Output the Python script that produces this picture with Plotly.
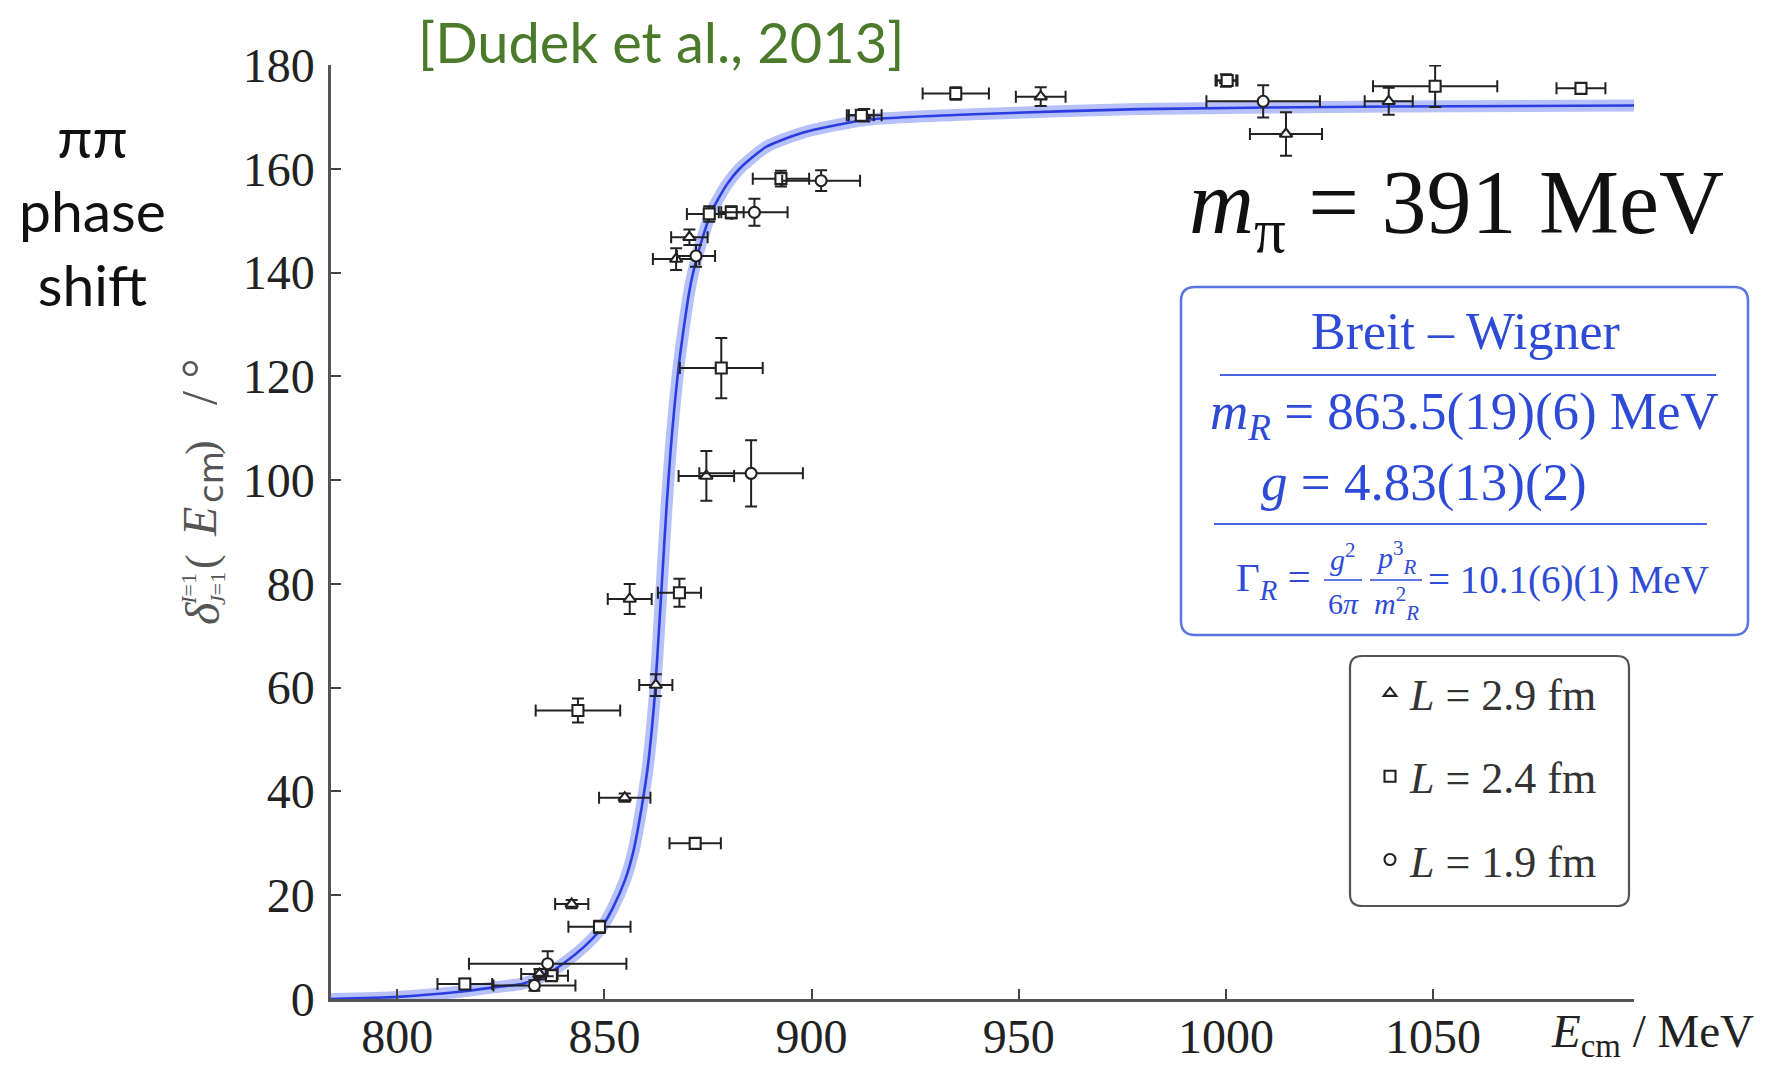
import plotly.graph_objects as go

# ---------------- data ----------------
# Breit-Wigner fit curve, E_cm in MeV, phase shift in degrees
curve_E = [784, 800, 815, 825, 830, 835, 840, 845, 849, 852, 855, 857, 859, 860.5,
           862, 863, 864, 865, 866, 867, 868, 869, 870, 871, 872.5, 874, 875.7,
           879.4, 882.6, 889, 898, 913, 939, 979, 1040, 1099]
curve_delta = [0, 0.4, 1.4, 2.4, 2.9, 4.3, 6.8, 10.0, 13.4, 17.5, 23, 28.5, 37, 45,
               57, 69, 82, 95, 106, 115, 122.5, 128.5, 134, 138.5, 143.5, 147.5, 151.5,
               156.8, 160, 164.2, 167.0, 169.4, 170.5, 171.5, 172, 172.2]

# L = 2.9 fm (triangles)
tri_E = [834.3, 842.1, 854.9, 862.4, 856.1, 874.6, 867.3, 870.5, 912.7, 955.3, 1000.0, 1014.5, 1039.3]
tri_d = [4.8, 18.3, 38.8, 60.5, 77.1, 100.8, 142.6, 146.8, 170.3, 173.9, 177.0, 166.7, 173.0]
tri_dE = [4.4, 4.0, 6.2, 4.0, 5.3, 6.7, 5.6, 4.4, 4.2, 6.0, 2.5, 8.7, 5.8]
tri_dd = [1.0, 0.8, 0.8, 2.1, 2.9, 4.8, 2.1, 1.5, 1.2, 1.8, 1.2, 4.2, 2.6]

# L = 2.4 fm (squares)
sq_E = [816.3, 837.2, 848.8, 871.9, 843.6, 868.1, 878.2, 875.3, 880.6, 892.6, 912.0, 934.8, 1000.3, 1050.5, 1085.7]
sq_d = [2.9, 4.5, 13.9, 30.0, 55.6, 78.3, 121.6, 151.3, 151.6, 158.1, 170.3, 174.5, 177.0, 175.9, 175.5]
sq_dE = [6.6, 4.0, 7.5, 6.2, 10.2, 5.2, 10.0, 5.4, 3.0, 6.8, 3.0, 8.0, 2.5, 15.0, 5.9]
sq_dd = [1.0, 1.0, 1.2, 1.0, 2.3, 2.7, 5.8, 1.5, 1.2, 1.5, 1.0, 1.2, 1.0, 4.0, 1.0]

# L = 1.9 fm (circles)
ci_E = [833.1, 836.3, 885.4, 872.1, 886.2, 902.3, 1009.0]
ci_d = [2.6, 6.8, 101.3, 143.2, 151.6, 157.7, 173.0]
ci_dE = [9.9, 19.0, 12.5, 4.6, 8.0, 9.4, 13.7]
ci_dd = [1.0, 2.4, 6.4, 2.1, 2.6, 2.0, 3.1]

x_ticks = [800, 850, 900, 950, 1000, 1050]
y_ticks = [0, 20, 40, 60, 80, 100, 120, 140, 160, 180]
series_names = ["<i>L</i> = 2.9 fm", "<i>L</i> = 2.4 fm", "<i>L</i> = 1.9 fm"]

# ---------------- layout geometry (screen pixels) ----------------
SCREEN_W, SCREEN_H = 1771, 1066
OFF = 8                       # default page margin in front of the figure
W, H = SCREEN_W - OFF, SCREEN_H - OFF
L, R, T, B = 331, 1634, 65, 999   # plot area on screen


def px(x):
    return (x - L) / (R - L)


def py(y):
    return (B - y) / (B - T)


def rounded_rect(x0, y0, x1, y1, r):
    rx = r / (R - L)
    ry = r / (B - T)
    X0, X1 = px(x0), px(x1)
    Y0, Y1 = py(y0), py(y1)  # Y0 top (larger), Y1 bottom
    return (f"M {X0+rx},{Y0} L {X1-rx},{Y0} Q {X1},{Y0} {X1},{Y0-ry} "
            f"L {X1},{Y1+ry} Q {X1},{Y1} {X1-rx},{Y1} "
            f"L {X0+rx},{Y1} Q {X0},{Y1} {X0},{Y1+ry} "
            f"L {X0},{Y0-ry} Q {X0},{Y0} {X0+rx},{Y0} Z")


SERIF = "Liberation Serif"
INK = "#222222"
BLUE_TXT = "#2d4bd6"

fig = go.Figure()

# fit band and curve
fig.add_trace(go.Scatter(x=curve_E, y=curve_delta, mode="lines",
                         line=dict(color="rgba(80,105,240,0.42)", width=12, shape="spline", smoothing=0.6),
                         showlegend=False, hoverinfo="skip"))
fig.add_trace(go.Scatter(x=curve_E, y=curve_delta, mode="lines",
                         line=dict(color="#2a3ee0", width=2.6, shape="spline", smoothing=0.6),
                         showlegend=False, hoverinfo="skip"))


def add_series(E, d, dE, dd, symbol, size, name, group):
    fig.add_trace(go.Scatter(
        x=E, y=d, mode="markers", name=name, legendgroup=group, cliponaxis=False,
        marker=dict(symbol=symbol, size=size, color="white", line=dict(color=INK, width=2.1)),
        error_x=dict(type="data", array=dE, color=INK, thickness=2.0, width=6),
        error_y=dict(type="data", array=dd, color=INK, thickness=2.0, width=6),
    ))


add_series(tri_E, tri_d, tri_dE, tri_dd, "triangle-up", 11, series_names[0], "a")
add_series(sq_E, sq_d, sq_dE, sq_dd, "square", 11, series_names[1], "b")
add_series(ci_E, ci_d, ci_dE, ci_dd, "circle", 11, series_names[2], "c")

shapes = []
# Breit-Wigner box
shapes.append(dict(type="path", xref="paper", yref="paper", path=rounded_rect(1181, 287, 1748, 635, 14),
                   line=dict(color="#5a76e4", width=2.5), fillcolor="rgba(255,255,255,0)", layer="above"))
shapes.append(dict(type="line", xref="paper", yref="paper", x0=px(1220), x1=px(1716), y0=py(375), y1=py(375),
                   line=dict(color="#4a66df", width=2.2)))
shapes.append(dict(type="line", xref="paper", yref="paper", x0=px(1214), x1=px(1707), y0=py(524), y1=py(524),
                   line=dict(color="#4a66df", width=2.2)))
# fraction bars
shapes.append(dict(type="line", xref="paper", yref="paper", x0=px(1324), x1=px(1362), y0=py(580), y1=py(580),
                   line=dict(color=BLUE_TXT, width=1.6)))
shapes.append(dict(type="line", xref="paper", yref="paper", x0=px(1370), x1=px(1422), y0=py(580), y1=py(580),
                   line=dict(color=BLUE_TXT, width=1.6)))
# legend box
shapes.append(dict(type="path", xref="paper", yref="paper", path=rounded_rect(1350, 656, 1629, 906, 12),
                   line=dict(color="#555555", width=2.2), fillcolor="rgba(255,255,255,0)", layer="above"))

ann = []


def add_text(text, x, y, size, color=INK, family=SERIF, xanchor="center", yanchor="middle", angle=0, align="center"):
    ann.append(dict(text=text, x=px(x), y=py(y), xref="paper", yref="paper", showarrow=False,
                    xanchor=xanchor, yanchor=yanchor, textangle=angle, align=align,
                    font=dict(family=family, size=size, color=color)))


add_text("[Dudek et al., 2013]", 661, 41, 56, color="#4a7a2a", family="Lato")
add_text("ππ<br>phase<br>shift", 92, 210, 57, color="#111111", family="Lato")
add_text("<i>m</i><sub>π</sub> = 391 MeV", 1456, 210, 90, color="#111111")
add_text("Breit – Wigner", 1465, 331, 52, color=BLUE_TXT)
add_text("<i>m</i><sub><i>R</i></sub> = 863.5(19)(6) MeV", 1464, 415, 53, color=BLUE_TXT)
add_text("<i>g</i> = 4.83(13)(2)", 1424, 482, 53, color=BLUE_TXT)
add_text("Γ<sub><i>R</i></sub> =", 1313, 580, 41, color=BLUE_TXT, xanchor="right")
add_text("<i>g</i><sup>2</sup>", 1343, 557, 30, color=BLUE_TXT)
add_text("6<i>π</i>", 1343, 603, 30, color=BLUE_TXT)
add_text("<i>p</i><sup>3</sup><sub><i>R</i></sub>", 1396, 557, 30, color=BLUE_TXT)
add_text("<i>m</i><sup>2</sup><sub><i>R</i></sub>", 1396, 603, 30, color=BLUE_TXT)
add_text("= 10.1(6)(1) MeV", 1426, 580, 39, color=BLUE_TXT, xanchor="left")
# rotated y-axis label built from pieces so the indices stack
GREY = "#555555"
add_text("<i>δ</i>", 202, 614, 48, color=GREY, angle=-90)
add_text("<i>I</i>=1<br><i>J</i>=1", 203, 589, 22, color=GREY, angle=-90)
add_text("(", 201, 562, 44, color=GREY, angle=-90)
add_text("<i>E</i>", 199, 522, 48, color=GREY, angle=-90)
add_text("cm", 211, 477, 34, color=GREY, family="DejaVu Sans", angle=-90)
add_text(")", 201, 448, 44, color=GREY, angle=-90)
add_text("/ °", 199, 382, 50, color=GREY, angle=-90)
add_text("<i>E</i><sub>cm</sub> / MeV", 1652, 1034, 47, color=INK)

axis_common = dict(showgrid=False, zeroline=False, showline=True, ticks="inside", ticklen=10, tickwidth=1.8,
                   tickcolor="#444444", linecolor="#555555", linewidth=2.5, automargin=False,
                   tickfont=dict(family=SERIF, size=48, color=INK))

fig.update_layout(
    width=W, height=H, autosize=False,
    margin=dict(l=L - OFF, r=SCREEN_W - R, t=T - OFF, b=SCREEN_H - B, pad=0, autoexpand=False),
    plot_bgcolor="white", paper_bgcolor="white",
    xaxis=dict(range=[784, 1098.5], tickvals=x_ticks, ticklabelstandoff=-6, **axis_common),
    yaxis=dict(range=[0, 180], tickvals=y_ticks, ticklabelstandoff=4, **axis_common),
    shapes=shapes, annotations=ann,
    legend=dict(x=px(1370), y=py(658), xanchor="left", yanchor="top", bgcolor="rgba(0,0,0,0)",
                borderwidth=0, tracegroupgap=23, font=dict(family=SERIF, size=44, color="#333333")),
    showlegend=True,
)

fig.write_html("out.html")
